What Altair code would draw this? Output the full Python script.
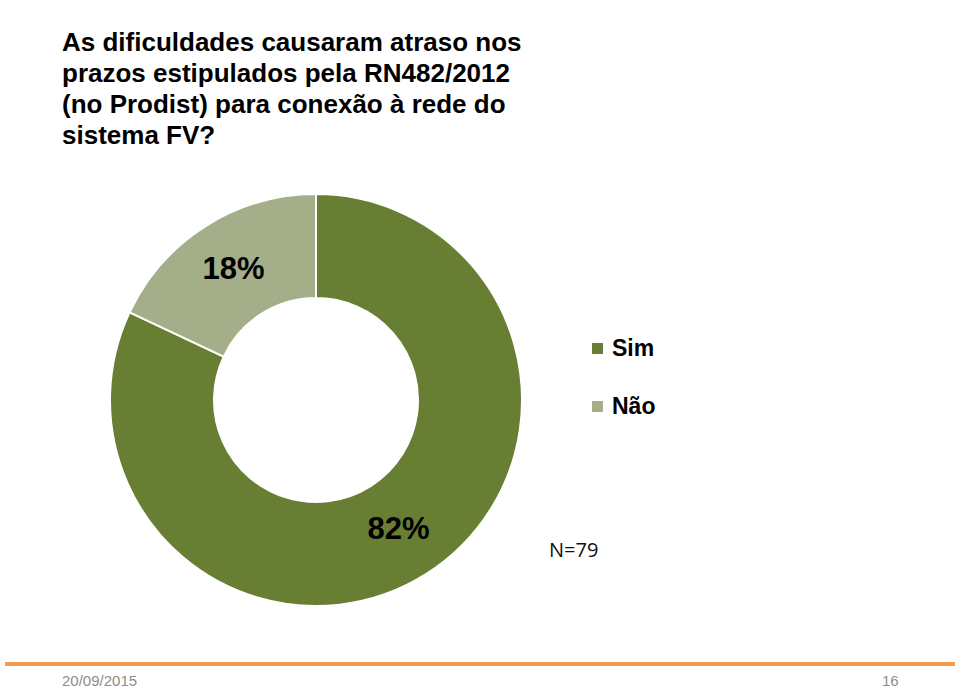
import altair as alt
import pandas as pd

categories = ["Sim", "Não"]
values = [82, 18]
labels = ["82%", "18%"]
colors = ["#687F33", "#A4AF8A"]
title_lines = [
    "As dificuldades causaram atraso nos",
    "prazos estipulados pela RN482/2012",
    "(no Prodist) para conexão à rede do",
    "sistema FV?",
]
n_text = "N=79"
footer_date = "20/09/2015"
footer_page = "16"

df = pd.DataFrame({"cat": categories, "value": values, "label": labels, "order": [0, 1]})

W, H = 960, 688
CX, CY = 316, 400

base = alt.Chart(df)

color_scale = alt.Scale(domain=categories, range=colors)

donut = base.mark_arc(outerRadius=206, innerRadius=102, stroke="white", strokeWidth=2).encode(
    theta=alt.Theta("value:Q", stack=True),
    color=alt.Color(
        "cat:N",
        scale=color_scale,
        sort=categories,
        legend=alt.Legend(
            title=None,
            orient="none",
            legendX=586,
            legendY=337,
            symbolType="square",
            symbolSize=121,
            symbolStrokeWidth=0,
            labelFont="Liberation Sans",
            labelFontSize=23,
            labelFontWeight="bold",
            labelColor="#000000",
            labelOffset=3,
            rowPadding=34,
        ),
    ),
    order=alt.Order("order:Q"),
    x=alt.value(CX),
    y=alt.value(CY),
)

pct = base.mark_text(
    radius=154, font="Liberation Sans", fontSize=31, fontWeight="bold", color="#000000",
    baseline="middle", align="center",
).encode(
    theta=alt.Theta("value:Q", stack=True),
    text="label:N",
    order=alt.Order("order:Q"),
    x=alt.value(CX),
    y=alt.value(CY),
)

title = alt.Chart(pd.DataFrame({"t": [0]})).mark_text(
    text=title_lines, font="Liberation Sans", fontSize=26, fontWeight="bold",
    align="left", baseline="alphabetic", lineHeight=31, color="#000000",
).encode(x=alt.value(62), y=alt.value(51))

ntext = alt.Chart(pd.DataFrame({"t": [0]})).mark_text(
    text=n_text, font="Open Sans", fontSize=20, align="left", baseline="alphabetic", color="#111111",
).encode(x=alt.value(549), y=alt.value(557))

footer_line = alt.Chart(pd.DataFrame({"t": [0]})).mark_rule(
    color="#F29A4E", strokeWidth=4,
).encode(x=alt.value(5), x2=alt.value(955), y=alt.value(664))

date_txt = alt.Chart(pd.DataFrame({"t": [0]})).mark_text(
    text=footer_date, font="Liberation Sans", fontSize=15, align="left", baseline="alphabetic", color="#8C8C8C",
).encode(x=alt.value(62), y=alt.value(686))

page_txt = alt.Chart(pd.DataFrame({"t": [0]})).mark_text(
    text=footer_page, font="Liberation Sans", fontSize=15, align="left", baseline="alphabetic", color="#8C8C8C",
).encode(x=alt.value(882), y=alt.value(686))

chart = alt.layer(donut, pct, title, ntext, footer_line, date_txt, page_txt).properties(
    width=W, height=H, padding=0, autosize=alt.AutoSizeParams(type="none"),
    background="white",
).configure_view(stroke=None)

chart.save("out.html", embed_options={"renderer": "svg", "actions": False})
